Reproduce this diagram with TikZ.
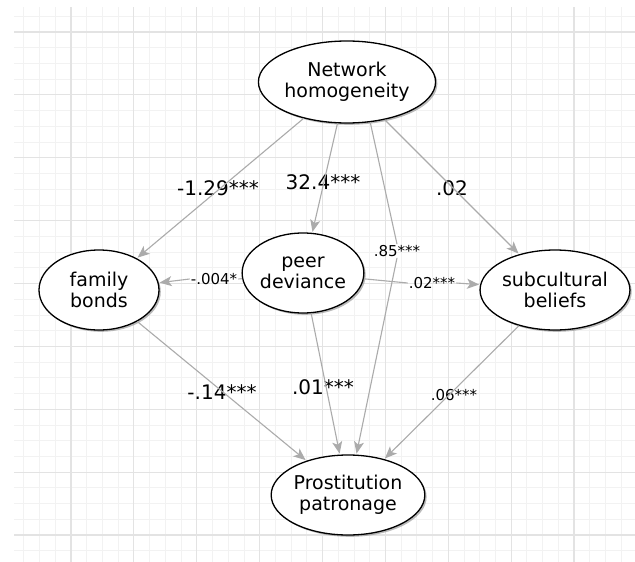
\documentclass[tikz,border=0pt]{standalone}
\usepackage{fontspec}
\setmainfont{DejaVu Sans}
\usetikzlibrary{arrows.meta,shadows,shapes.geometric}
\definecolor{gridminor}{HTML}{F2F2F2}
\definecolor{gridmajor}{HTML}{E3E3E3}
\definecolor{pathgray}{HTML}{ABABAB}
\begin{document}
\begin{tikzpicture}[x=1pt, y=-1pt,
  construct/.style={ellipse, draw, line width=1.3pt, fill=white, inner sep=0pt,
    minimum width=120pt, minimum height=80pt, align=center,
    font=\fontsize{19}{20.5}\selectfont,
    drop shadow={shadow xshift=1.8pt, shadow yshift=-1.8pt, fill=black!45, opacity=.6}},
  path line/.style={draw=pathgray, line width=1.1pt},
  effect/.style={path line, -{Stealth[length=12pt, width=10pt, inset=3pt]}, shorten >=1pt},
  coef/.style={inner sep=1pt, font=\fontsize{20}{22}\selectfont},
  coef small/.style={inner sep=1pt, font=\fontsize{15}{17}\selectfont}]
\useasboundingbox[fill=white] (0,0) rectangle (635,562);
\foreach \k in {-3,...,35}
  \draw[gridminor, line width=.8pt] ({71+15.72*\k},7) -- ({71+15.72*\k},562);
\foreach \k in {-1,...,33}
  \draw[gridminor, line width=.8pt] (14,{32+15.72*\k}) -- (635,{32+15.72*\k});
\foreach \k in {0,...,8} {
  \draw[gridmajor, line width=1.2pt] ({71+62.88*\k},7) -- ({71+62.88*\k},562);
  \draw[gridmajor, line width=1.2pt] (14,{32+62.88*\k}) -- (635,{32+62.88*\k});
}
\node[construct, minimum width=140pt, minimum height=82pt] (nh) at (347,82) {Network\\homogeneity};
\node[construct] (fb) at (99,290) {family\\bonds};
\node[construct] (pd) at (303,273) {peer\\deviance};
\node[construct] (sb) at (555,290) {subcultural\\beliefs};
\node[construct, minimum width=118pt] (pp) at (348,495) {Prostitution\\patronage};
\node[coef] (l129) at (218,188) {-1.29***};
\node[coef] (l324) at (323,182) {32.4***};
\node[coef] (l02a) at (452,188) {.02};
\node[coef small] (l85) at (397,251) {.85***};
\node[coef small] (l004) at (214,279) {-.004*};
\node[coef small] (l02b) at (432,283) {.02***};
\node[coef] (l14) at (222,392) {-.14***};
\node[coef] (l01) at (323,387) {.01***};
\node[coef small] (l06) at (454,395) {.06***};
\draw[effect] (nh) -- (fb);
\draw[effect] (nh) -- (pd);
\draw[effect] (nh) -- (sb);
\draw[path line] (nh.-60) -- (l85.north);
\draw[effect] (l85.south) -- (pp);
\draw[path line] (pd) -- (l004.east);
\draw[effect] (l004.west) -- (fb);
\draw[path line] (pd) -- (l02b.west);
\draw[effect] (l02b.east) -- (sb);
\draw[effect] (fb) -- (pp);
\draw[effect] (pd) -- (pp);
\draw[effect] (sb) -- (pp);
\end{tikzpicture}
\end{document}
